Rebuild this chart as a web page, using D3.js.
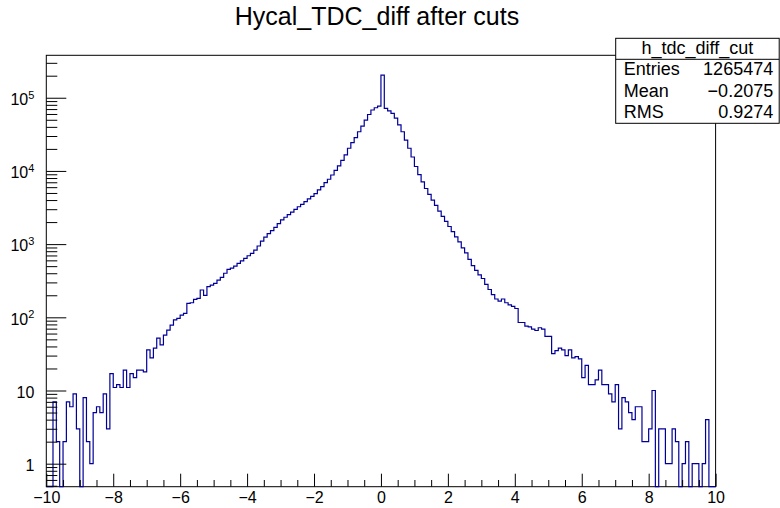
<!DOCTYPE html>
<html><head><meta charset="utf-8">
<script src="https://cdn.jsdelivr.net/npm/d3@7"></script>
<style>
html,body{margin:0;padding:0;background:#fff;}
svg{display:block;}
text{font-family:"Liberation Sans",Arial,Helvetica,sans-serif;fill:#000;}
</style>
</head><body>
<svg id="chart" width="780" height="508"></svg>
<script>
// ---------- data ----------
const chartTitle = "Hycal_TDC_diff after cuts";
const histName = "h_tdc_diff_cut";
const statLabels = ["Entries", "Mean", "RMS"];
const statValues = ["1265474", "\u22120.2075", "0.9274"];

const xMin = -10, xMax = 10, binWidth = 0.1;

// bin contents, 200 bins from -10 to 10
const countsLeft = [
  0, 0, 7, 2, 0, 2, 7, 6, 9, 3,
  0, 8, 2, 1, 5, 6, 5, 9, 3, 17,
  11, 12, 11, 19, 11, 17, 15, 19, 19, 18,
  36, 28, 38, 52, 42, 57, 67, 78, 92, 97,
  107, 113, 155, 158, 176, 182, 236, 200, 262, 276,
  291, 322, 352, 400, 453, 470, 500, 547, 590, 640,
  694, 748, 830, 942, 1100, 1250, 1390, 1530, 1690, 1900,
  2140, 2330, 2530, 2740, 2980, 3240, 3500, 3800, 4150, 4500,
  4900, 5500, 6100, 6900, 7700, 8800, 10200, 11700, 13900, 16600,
  20400, 24300, 28600, 34300, 41000, 49500, 59000, 68000, 73000, 77000
];
const countsRight = [
  204000, 71600, 66300, 61200, 52500, 42700, 34300, 26300, 20400, 15500,
  11500, 8900, 7100, 5750, 4790, 3980, 3390, 2820, 2400, 2040,
  1740, 1480, 1260, 1070, 890, 760, 620, 510, 437, 380,
  339, 282, 240, 204, 178, 166, 178, 158, 148, 141,
  132, 85, 85, 76, 74, 69, 66, 72, 69, 55,
  55, 32, 35, 38, 36, 30, 36, 28, 29, 27,
  15, 22, 12, 12, 14, 19, 12, 12, 9, 7,
  12, 3, 8, 7, 5, 4, 6, 6, 2, 2,
  3, 10, 0, 3, 3, 1, 1, 3, 2, 0,
  1, 2, 0, 1, 1, 0, 1, 4, 0, 0
];
const counts = countsLeft.concat(countsRight);

const xMajorTicks = [-10, -8, -6, -4, -2, 0, 2, 4, 6, 8, 10];
const xMinorTicks = d3.range(-10, 10.001, 0.5).filter(v => Math.abs(v % 2) > 1e-9);
const yMajorTicks = [1, 10, 100, 1000, 10000, 100000];
const yTickBase = ["1", "10", "10", "10", "10", "10"];
const yTickExp = ["", "", "2", "3", "4", "5"];

// ---------- layout ----------
const frame = {left: 46.3, right: 715.6, top: 55.3, bottom: 486.7};
const yDomain = [0.485, 3.8e5];
const lineColor = "#000099";

const svg = d3.select("#chart");

const x = d3.scaleLinear().domain([xMin, xMax]).range([frame.left, frame.right]);
const y = d3.scaleLog().domain(yDomain).range([frame.bottom, frame.top]);

// frame
svg.append("rect")
  .attr("x", frame.left).attr("y", frame.top)
  .attr("width", frame.right - frame.left).attr("height", frame.bottom - frame.top)
  .attr("fill", "none").attr("stroke", "#000").attr("stroke-width", 1);

// histogram step line
const pts = counts.map((c, i) => [xMin + i * binWidth, c]);
pts.push([xMax, counts[counts.length - 1]]);
const line = d3.line()
  .x(d => x(d[0]))
  .y(d => y(Math.max(d[1], yDomain[0])))
  .curve(d3.curveStepAfter);
svg.append("path")
  .attr("d", line(pts))
  .attr("fill", "none")
  .attr("stroke", lineColor)
  .attr("stroke-width", 1.2);

// x axis
const gx = svg.append("g").attr("transform", `translate(0,${frame.bottom})`);
gx.call(d3.axisBottom(x).tickValues(xMajorTicks).tickSize(-13).tickPadding(5)
  .tickFormat(d3.format("")));
gx.select(".domain").remove();
gx.selectAll(".tick line").attr("stroke", "#000");
gx.selectAll(".tick text").attr("font-size", 16).attr("font-family", null);
const gxm = svg.append("g").attr("transform", `translate(0,${frame.bottom})`);
gxm.call(d3.axisBottom(x).tickValues(xMinorTicks).tickSize(-6.7).tickFormat(""));
gxm.select(".domain").remove();
gxm.selectAll(".tick line").attr("stroke", "#000");

// y axis
const gy = svg.append("g").attr("transform", `translate(${frame.left},0)`);
gy.call(d3.axisLeft(y).tickValues(yMajorTicks).tickSize(-20).tickPadding(12)
  .tickFormat(() => ""));
gy.select(".domain").remove();
gy.selectAll(".tick line").attr("stroke", "#000");
gy.selectAll(".tick text").each(function(d, i) {
  const t = d3.select(this).attr("font-size", 16).attr("font-family", null).attr("dy", "0.42em");
  t.append("tspan").text(yTickBase[i]);
  if (yTickExp[i]) {
    t.append("tspan").attr("font-size", 11).attr("dy", "-0.55em").text(yTickExp[i]);
  }
});
const yMinor = [];
for (let e = -1; e <= 5; e++) for (let m = 2; m <= 9; m++) {
  const v = m * Math.pow(10, e);
  if (v >= yDomain[0] && v <= yDomain[1]) yMinor.push(v);
}
const gym = svg.append("g").attr("transform", `translate(${frame.left},0)`);
gym.call(d3.axisLeft(y).tickValues(yMinor).tickSize(-11).tickFormat(""));
gym.select(".domain").remove();
gym.selectAll(".tick line").attr("stroke", "#000");

// title
svg.append("text")
  .attr("x", 377).attr("y", 25)
  .attr("text-anchor", "middle").attr("font-size", 25)
  .text(chartTitle);

// stats box
const sb = {x: 615.7, y: 38.3, w: 163.5, h: 85, titleH: 21};
svg.append("rect").attr("x", sb.x).attr("y", sb.y).attr("width", sb.w).attr("height", sb.h)
  .attr("fill", "#fff").attr("stroke", "#000").attr("stroke-width", 1);
svg.append("line").attr("x1", sb.x).attr("x2", sb.x + sb.w)
  .attr("y1", sb.y + sb.titleH).attr("y2", sb.y + sb.titleH).attr("stroke", "#000");
svg.append("text").attr("x", sb.x + sb.w / 2).attr("y", sb.y + 16)
  .attr("text-anchor", "middle").attr("font-size", 18).text(histName);
statLabels.forEach((lab, i) => {
  const by = sb.y + 37 + i * 21.5;
  svg.append("text").attr("x", sb.x + 8).attr("y", by).attr("font-size", 18).text(lab);
  svg.append("text").attr("x", sb.x + sb.w - 6).attr("y", by).attr("text-anchor", "end")
    .attr("font-size", 18).text(statValues[i]);
});
</script>
</body></html>
